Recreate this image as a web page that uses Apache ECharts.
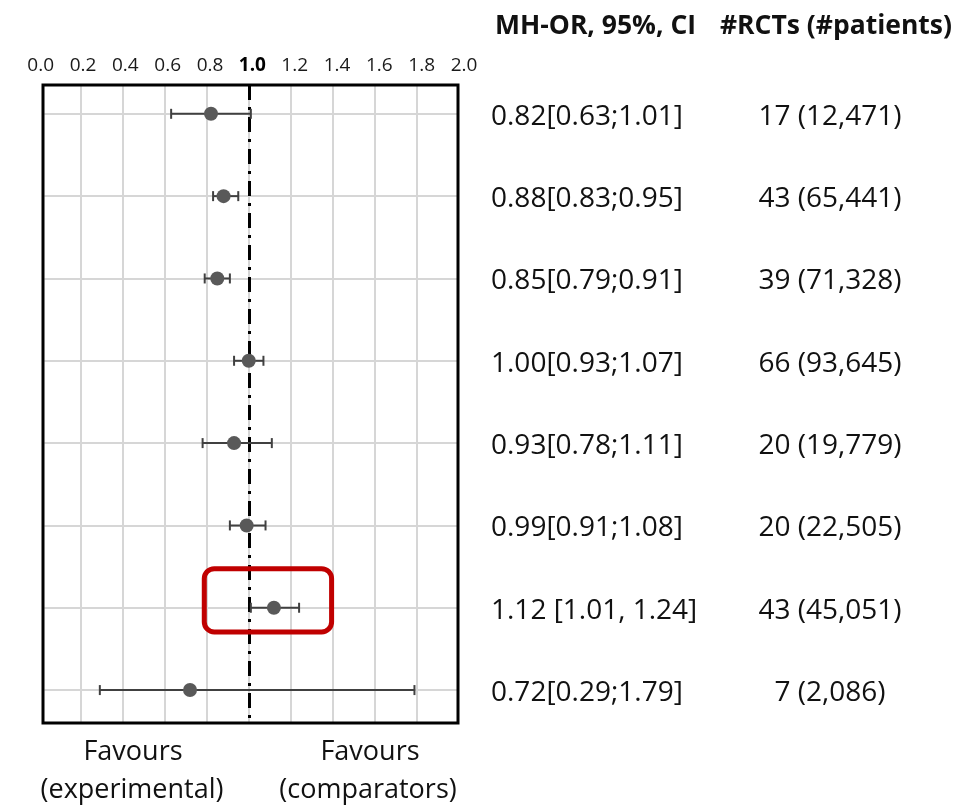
<!DOCTYPE html>
<html>
<head>
<meta charset="utf-8">
<script src="https://cdn.jsdelivr.net/npm/echarts@6.0.0/dist/echarts.min.js"></script>
<style>
  html, body { margin: 0; padding: 0; background: #fff; }
  #chart { width: 967px; height: 806px; }
</style>
</head>
<body>
<div id="chart"></div>
<script>
// Forest plot: Mantel-Haenszel odds ratios with 95% confidence intervals
const rows = [1, 2, 3, 4, 5, 6, 7, 8];
const orValues = [0.82, 0.88, 0.85, 1.00, 0.93, 0.99, 1.12, 0.72];
const ciLow = [0.63, 0.83, 0.79, 0.93, 0.78, 0.91, 1.01, 0.29];
const ciHigh = [1.01, 0.95, 0.91, 1.07, 1.11, 1.08, 1.24, 1.79];
const ciLabels = ['0.82[0.63;1.01]', '0.88[0.83;0.95]', '0.85[0.79;0.91]', '1.00[0.93;1.07]',
                  '0.93[0.78;1.11]', '0.99[0.91;1.08]', '1.12 [1.01, 1.24]', '0.72[0.29;1.79]'];
const trialLabels = ['17 (12,471)', '43 (65,441)', '39 (71,328)', '66 (93,645)',
                     '20 (19,779)', '20 (22,505)', '43 (45,051)', '7 (2,086)'];
const headerOR = 'MH-OR, 95%, CI';
const headerTrials = '#RCTs (#patients)';
const favourLeft = ['Favours', '(experimental)'];
const favourRight = ['Favours', '(comparators)'];
const nullValue = 1.0;
const highlightRow = 7;

const FONT = '"Open Sans", "Noto Sans", sans-serif';
const GRID_COLOR = '#d6d6d6';
const MARK_COLOR = '#595959';

const chart = echarts.init(document.getElementById('chart'), null, { renderer: 'canvas' });

const plotTop = 85, plotHeight = 638;

chart.setOption({
  animation: false,
  backgroundColor: '#ffffff',
  grid: [
    { left: 39, top: plotTop, width: 419.5, height: plotHeight },
    { left: 40.7, top: plotTop, width: 423.3, height: plotHeight }
  ],
  xAxis: [
    {
      gridIndex: 0, type: 'value', min: 0, max: 2, interval: 0.2, position: 'top',
      axisLine: { show: false }, axisTick: { show: false }, axisLabel: { show: false },
      splitLine: { show: true, showMinLine: false, showMaxLine: false,
                   lineStyle: { color: GRID_COLOR, width: 2 } }
    },
    {
      gridIndex: 1, type: 'value', min: 0, max: 2, interval: 0.2, position: 'top',
      axisLine: { show: false }, axisTick: { show: false }, splitLine: { show: false },
      axisLabel: {
        show: true, margin: 10, fontFamily: FONT, fontSize: 19, color: '#1a1a1a',
        formatter: v => Math.abs(v - nullValue) < 1e-9 ? '{b|' + v.toFixed(1) + '}' : v.toFixed(1),
        rich: { b: { fontFamily: FONT, fontSize: 19, fontWeight: 'bold', color: '#000' } }
      }
    }
  ],
  yAxis: [
    { gridIndex: 0, type: 'value', inverse: true, min: 0.65, max: 8.4, show: false, splitLine: { show: false } },
    { gridIndex: 1, type: 'value', inverse: true, min: 0.65, max: 8.4, show: false, splitLine: { show: false } }
  ],
  series: [
    {
      // horizontal row guides
      type: 'scatter', xAxisIndex: 0, yAxisIndex: 0, data: [], silent: true, z: 1,
      markLine: {
        z: 1, silent: true, symbol: 'none', label: { show: false },
        lineStyle: { color: GRID_COLOR, width: 2, type: 'solid' },
        data: rows.map(r => [{ coord: [0.025, r] }, { coord: [2, r] }])
      }
    },
    {
      // line of no effect
      type: 'scatter', xAxisIndex: 0, yAxisIndex: 0, data: [], silent: true, z: 2,
      markLine: {
        z: 2, silent: true, symbol: 'none', label: { show: false },
        lineStyle: { color: '#000', width: 3, type: [15, 7, 3, 7] },
        data: [{ xAxis: nullValue }]
      }
    },
    {
      // confidence interval whiskers
      type: 'custom', xAxisIndex: 0, yAxisIndex: 0, z: 3,
      data: rows.map((r, i) => [ciLow[i], ciHigh[i], r]),
      encode: { x: [0, 1], y: 2 },
      renderItem: (params, api) => {
        const a = api.coord([api.value(0), api.value(2)]);
        const b = api.coord([api.value(1), api.value(2)]);
        const cap = 5;
        const style = { stroke: '#404040', lineWidth: 2 };
        return {
          type: 'group',
          children: [
            { type: 'line', shape: { x1: a[0], y1: a[1], x2: b[0], y2: b[1] }, style },
            { type: 'line', shape: { x1: a[0], y1: a[1] - cap, x2: a[0], y2: a[1] + cap }, style },
            { type: 'line', shape: { x1: b[0], y1: b[1] - cap, x2: b[0], y2: b[1] + cap }, style }
          ]
        };
      }
    },
    {
      // point estimates
      type: 'scatter', xAxisIndex: 0, yAxisIndex: 0, z: 4,
      symbol: 'circle', symbolSize: 14,
      itemStyle: { color: MARK_COLOR, opacity: 1 },
      data: rows.map((r, i) => [orValues[i], r])
    }
  ]
});

// Frame, side columns and annotations placed relative to the plot scales
const toPx = (x, y) => chart.convertToPixel({ gridIndex: 0 }, [x, y]);
const graphics = [];

graphics.push({
  type: 'rect', z: 10, silent: true,
  shape: { x: 43, y: plotTop, width: 415, height: plotHeight },
  style: { fill: 'none', stroke: '#000', lineWidth: 3 }
});

const textStyle = (text, x, y, size, weight, align) => ({
  type: 'text', z: 10, silent: true, x, y,
  style: { text, fontFamily: FONT, fontSize: size, fontWeight: weight || 'normal',
           fill: '#111', align: align || 'left', verticalAlign: 'middle' }
});

graphics.push(textStyle(headerOR, 495, 26, 26.5, 'bold', 'left'));
graphics.push(textStyle(headerTrials, 952, 26, 26.5, 'bold', 'right'));

rows.forEach((r, i) => {
  const y = toPx(nullValue, r)[1] + 3;
  graphics.push(textStyle(ciLabels[i], 491, y, 28, 'normal', 'left'));
  graphics.push(textStyle(trialLabels[i], 830, y, 28, 'normal', 'center'));
});

graphics.push(textStyle(favourLeft[0], 133, 752, 27, 'normal', 'center'));
graphics.push(textStyle(favourLeft[1], 132, 790, 27, 'normal', 'center'));
graphics.push(textStyle(favourRight[0], 370, 752, 27, 'normal', 'center'));
graphics.push(textStyle(favourRight[1], 368, 790, 27, 'normal', 'center'));

// highlight box around the one interval that excludes the null
const hlA = toPx(0.788, highlightRow - 0.475);
const hlB = toPx(1.395, highlightRow + 0.294);
graphics.push({
  type: 'rect', z: 11, silent: true,
  shape: { x: hlA[0], y: hlA[1], width: hlB[0] - hlA[0], height: hlB[1] - hlA[1], r: 10 },
  style: { fill: 'none', stroke: '#c00000', lineWidth: 5 }
});

chart.setOption({ graphic: graphics });
</script>
</body>
</html>
